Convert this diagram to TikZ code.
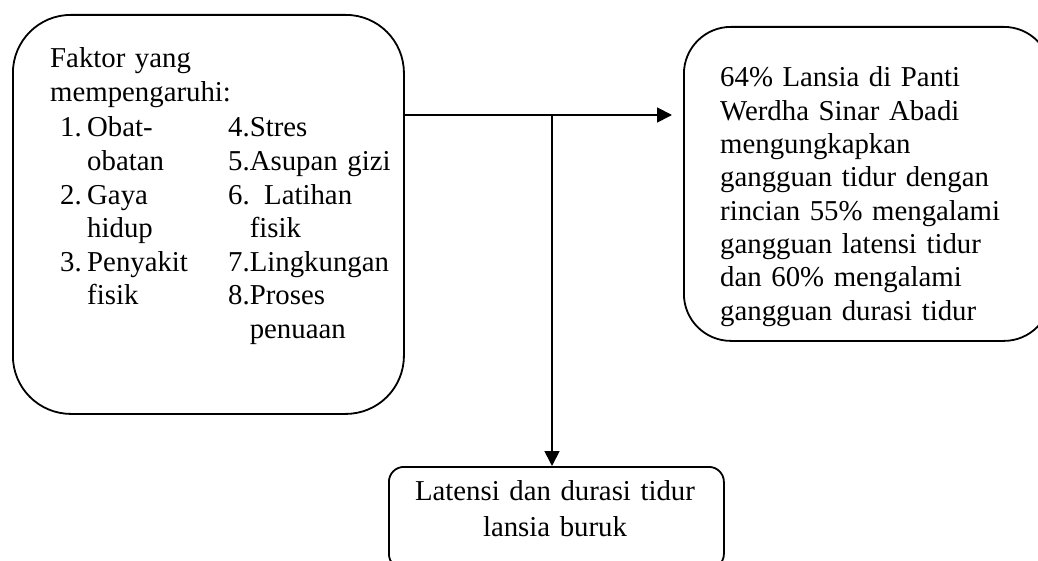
\documentclass[tikz,border=0pt]{standalone}
\usepackage{fontspec}
\setmainfont{Liberation Serif}
\usetikzlibrary{arrows.meta}
\begin{document}
\begin{tikzpicture}[x=1pt,y=-1pt,
  box/.style={draw=black, line width=1.8pt, inner sep=0pt, anchor=north west},
  txt/.style={inner sep=0pt, anchor=base west, align=left, text width=#1,
              font=\fontsize{28.8}{33.6}\selectfont},
  txt/.default=300pt,
  conn/.style={draw=black, line width=1.8pt, -{Triangle[length=15pt,width=15pt]}}]
\useasboundingbox (0,0) rectangle (1038,561);
\clip (0,0) rectangle (1038,561);
\fill[white] (0,0) rectangle (1038,561);

% boxes
\node[box, rounded corners=58pt, minimum width=391pt, minimum height=399pt] (faktor) at (12,14) {};
\node[box, rounded corners=47pt, minimum width=367pt, minimum height=314pt] (info) at (683,26) {};
\node[box, rounded corners=15pt, minimum width=335pt, minimum height=102pt] (hasil) at (388,466) {};

% left text
\node[txt] (head) at (50,68) {Faktor yang\\mempengaruhi:};
\node[txt=30pt] (numA) at (60,137) {1.\\\mbox{}\\2.\\\mbox{}\\3.};
\node[txt=140pt] (colA) at (87,137) {Obat-\\obatan\\Gaya\\hidup\\Penyakit\\fisik};
\node[txt=175pt] (colB) at (228,137) {4.Stres\\5.Asupan gizi\\6. Latihan\\\phantom{6.}fisik\\7.Lingkungan\\8.Proses\\\phantom{8.}penuaan};

% right text (clipped like the original text frame)
\begin{scope}
\clip (683,26) rectangle (1038,330);
\node[txt=320pt, font=\fontsize{28.8}{33.3}\selectfont] (infotext) at (720,87)
  {64\% Lansia di Panti\\Werdha Sinar Abadi\\mengungkapkan\\gangguan tidur dengan\\rincian 55\% mengalami\\gangguan latensi tidur\\dan 60\% mengalami\\gangguan durasi tidur};
\end{scope}

% bottom text
\node[txt=330pt, align=center, anchor=base, font=\fontsize{28.8}{36}\selectfont] (hasiltext) at (555,500)
  {Latensi dan durasi tidur\\lansia buruk};

% connectors
\coordinate (split) at (552,115);
\draw[conn, shorten >=11pt] (faktor.east |- split) -- (info.west |- split);
\draw[conn] (split) -- (split |- hasil.north);
\end{tikzpicture}
\end{document}
